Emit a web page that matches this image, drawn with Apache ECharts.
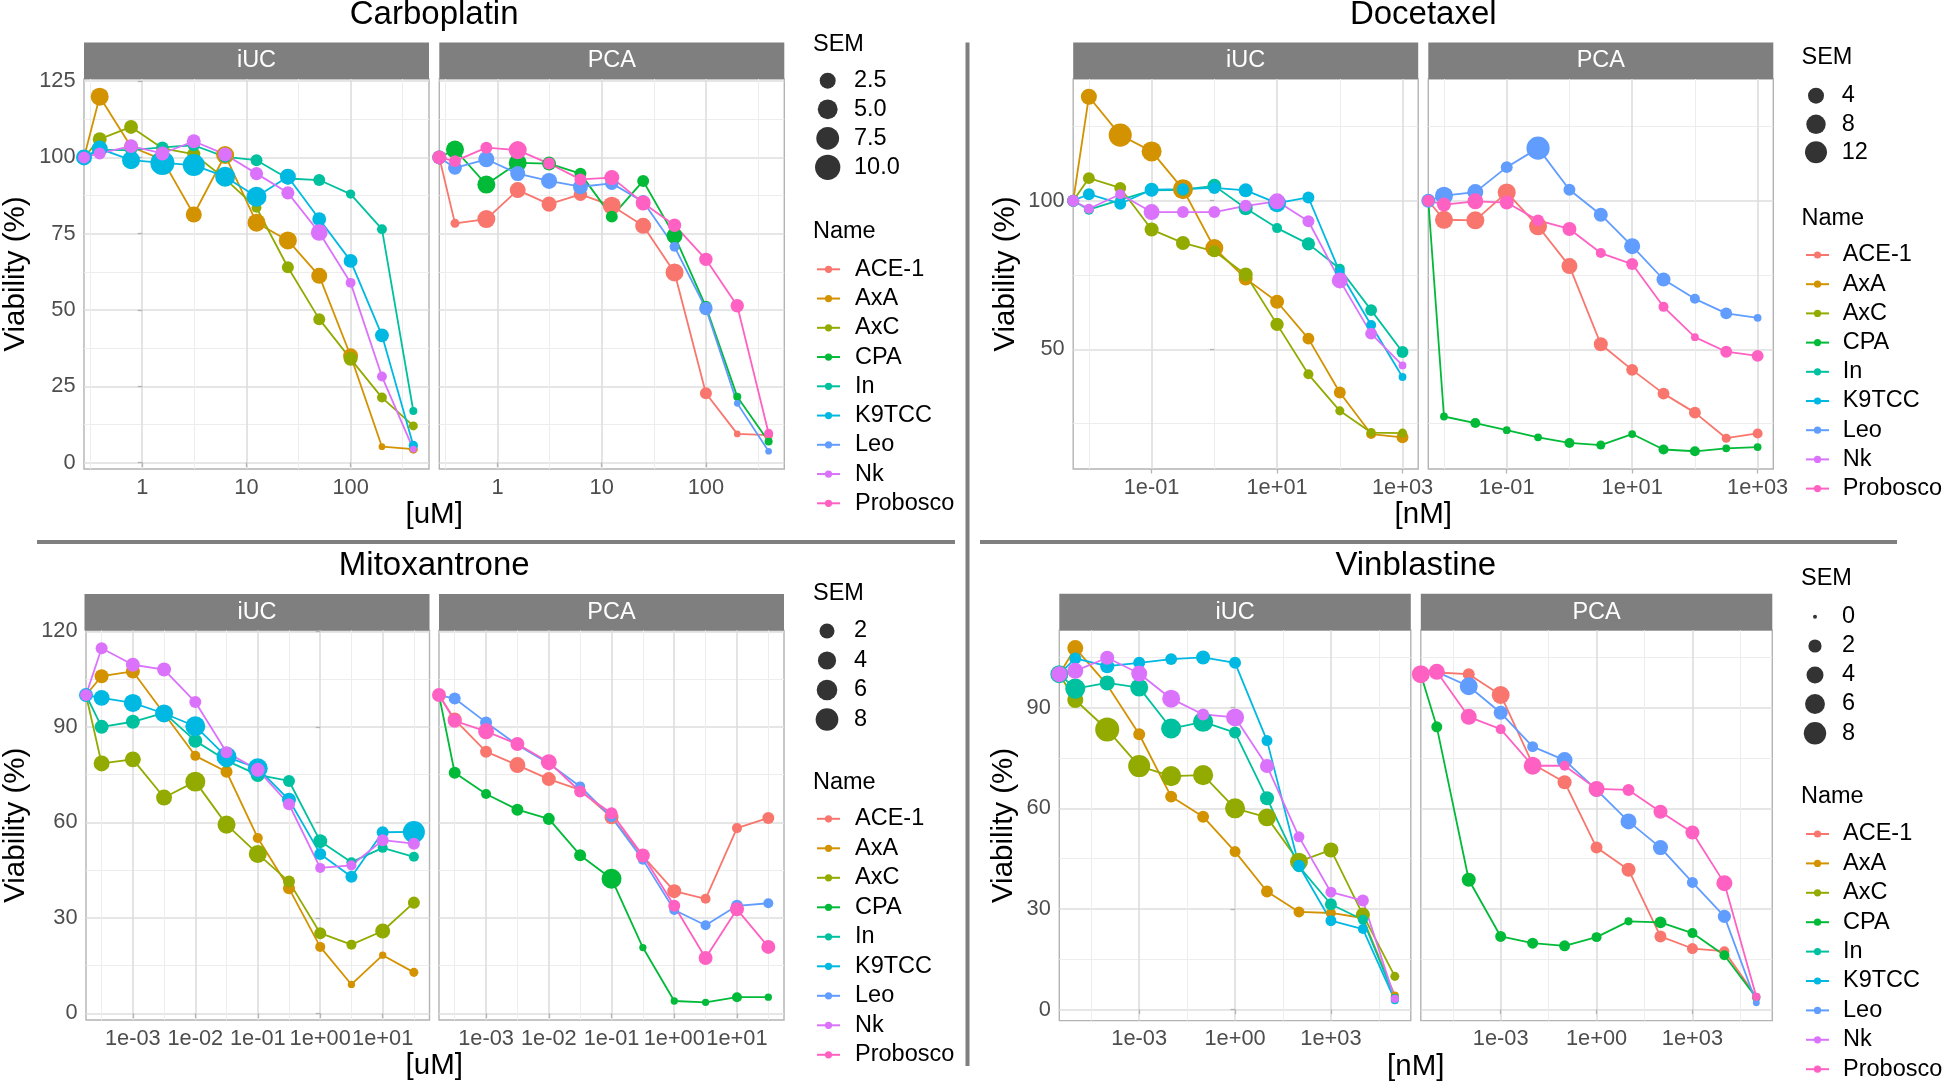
<!DOCTYPE html>
<html>
<head>
<meta charset="utf-8">
<script src="https://cdn.jsdelivr.net/npm/echarts@6/dist/echarts.min.js"></script>
<style>html,body{margin:0;padding:0;background:#fff;}#chart{width:1944px;height:1087px;}</style>
</head>
<body>
<div id="chart"></div>
<script>
// ---------------- data ----------------
const seriesNames = ['ACE-1','AxA','AxC','CPA','In','K9TCC','Leo','Nk','Probosco'];
const iucLines = ['AxA','AxC','In','K9TCC','Nk'];
const pcaLines = ['ACE-1','CPA','Leo','Probosco'];
const facets = ['iUC','PCA'];

// Carboplatin [uM]
const carboConc = [0, 0.390625, 0.78125, 1.5625, 3.125, 6.25, 12.5, 25, 50, 100, 200, 400];
const carboAxA = [100, 119.9, 103.5, 99.3, 81.3, 100.8, 78.6, 72.8, 61.2, 35.0, 5.2, 4.4];
const carboAxASem = [0.8, 3.7, 1.5, 0.8, 2.5, 3.7, 3.7, 3.7, 2.5, 2.0, 0, 0.15];
const carboAxC = [100, 106, 110, 103, 101.1, 93, 83.5, 64, 47, 34, 21.3, 12];
const carboAxCSem = [0.8, 1.5, 1.5, 1.0, 1.2, 1.0, 0.3, 0.8, 0.8, 1.5, 0.3, 0.15];
const carboIn = [100, 102.5, 102.4, 103.3, 104, 100.2, 99.1, 93.1, 92.6, 88, 76.5, 16.9];
const carboInSem = [0.8, 0.8, 0.8, 0.8, 0.8, 0.8, 0.8, 0.8, 0.8, 0.2, 0.3, 0.05];
const carboK9TCC = [100, 102.9, 99.1, 98.2, 97.5, 93.7, 87.1, 93.7, 79.8, 66.1, 41.7, 5.6];
const carboK9TCCSem = [2.5, 2.5, 3.7, 8.7, 6.8, 5.1, 5.1, 2.5, 1.5, 1.5, 1.5, 0.2];
const carboNk = [100, 101.3, 103.7, 101.3, 105.3, 101, 94.7, 88.4, 75.4, 58.9, 28.2, 4.4];
const carboNkSem = [0.8, 0.8, 1.5, 1.5, 1.5, 1.5, 1.2, 1.2, 2.9, 0.3, 0.3, 0];
const carboACE1 = [100, 78.4, 79.8, 89.3, 84.7, 87.9, 84.2, 77.6, 62.3, 22.7, 9.4, 9.0];
const carboACE1Sem = [0.8, 0.15, 3.7, 2.5, 2.0, 1.3, 3.7, 2.5, 3.7, 0.8, 0, 0.15];
const carboCPA = [100, 102.6, 91.1, 98.2, 98, 94.7, 80.6, 92.3, 74.3, 51.1, 21.6, 6.9];
const carboCPASem = [1.5, 3.7, 3.7, 3.7, 1.5, 0.8, 0.8, 0.8, 2.5, 0.8, 0.05, 0.05];
const carboLeo = [100, 96.6, 99.4, 94.7, 92.3, 90.4, 91.5, 85.5, 70.7, 50.5, 19.4, 3.7];
const carboLeoSem = [1.5, 1.5, 2.5, 2.0, 2.5, 2.0, 1.3, 1.3, 0.3, 1.3, 0, 0];
const carboProbosco = [100, 98.8, 103.2, 102.4, 98, 92.8, 93.4, 85.1, 77.8, 66.6, 51.4, 9.6];
const carboProboscoSem = [1.5, 0.8, 0.8, 3.7, 0.8, 0.8, 2.0, 2.0, 1.3, 1.3, 1.3, 0.15];
const carboXTicks = [1, 10, 100];
const carboXLabels = ['1', '10', '100'];
const carboYTicks = [0, 25, 50, 75, 100, 125];
const carboSemBreaks = [2.5, 5, 7.5, 10];
const carboSemLabels = ['2.5', '5.0', '7.5', '10.0'];

// Docetaxel [nM]
const doceConc = [0, 0.01, 0.0316, 0.1, 0.316, 1, 3.16, 10, 31.6, 100, 316, 1000];
const doceAxA = [100, 135, 122.1, 116.6, 103.9, 84.1, 73.8, 66, 53.6, 35.5, 21.5, 20.4];
const doceAxASem = [1.0, 4.0, 14, 8.9, 8.9, 6.2, 2.3, 2.3, 1.0, 1.0, 0.3, 1.0];
const doceAxC = [100, 107.6, 104.3, 90.3, 85.8, 83, 75.2, 58.4, 41.6, 29.3, 22, 21.8];
const doceAxCSem = [1.0, 1.0, 1.0, 2.3, 2.3, 1.0, 2.3, 1.8, 0.3, 0.1, 0.1, 0.1];
const doceIn = [100, 97, 100.3, 103.5, 103.7, 105, 97.5, 90.8, 85.5, 77.1, 63.2, 49.1];
const doceInSem = [1.0, 0.3, 0.3, 1.0, 1.0, 2.3, 2.3, 0.3, 1.8, 0.3, 1.0, 1.0];
const doceK9TCC = [100, 102.2, 99, 103.7, 103.9, 104.3, 103.5, 99.2, 101.1, 76, 58.2, 40.7];
const doceK9TCCSem = [1.0, 1.0, 1.0, 2.3, 1.0, 1.0, 2.3, 6.2, 1.0, 0.3, 0.3, 0];
const doceNk = [100, 97.3, 102.2, 96.2, 96.2, 96.2, 98.3, 99.8, 93.1, 73.2, 55.3, 44.6];
const doceNkSem = [1.0, 0.3, 0.3, 4.0, 1.0, 1.0, 1.0, 4.0, 1.0, 4.0, 1.0, 0];
const doceACE1 = [100, 93.6, 93.4, 102.8, 91.4, 78, 51.7, 43.1, 35.1, 28.7, 20.1, 21.7];
const doceACE1Sem = [1.0, 6.2, 6.2, 6.2, 6.2, 4.0, 2.3, 1.0, 1.0, 1.0, 0.1, 0.3];
const doceCPA = [100, 27.4, 25.2, 22.8, 20.4, 18.5, 17.8, 21.5, 16.3, 15.7, 16.7, 17.1];
const doceCPASem = [1.0, 0, 0.3, 0, 0, 0.3, 0.1, 0, 0.3, 0.3, 0, 0];
const doceLeo = [100, 101.7, 102.9, 111.3, 117.7, 103.7, 95.3, 84.7, 73.5, 67, 62.1, 60.6];
const doceLeoSem = [2.3, 6.2, 4.0, 1.0, 14, 1.0, 2.3, 4.0, 2.3, 0.3, 1.0, 0];
const doceProbosco = [100, 98.7, 99.8, 99.4, 93.4, 90.5, 82.4, 78.7, 64.3, 54.1, 49.2, 47.8];
const doceProboscoSem = [1.0, 2.3, 4.0, 2.3, 1.0, 2.3, 0.3, 1.0, 0.3, 0, 1.0, 1.0];
const doceXTicks = [0.1, 10, 1000];
const doceXLabels = ['1e-01', '1e+01', '1e+03'];
const doceYTicks = [50, 100];
const doceSemBreaks = [4, 8, 12];
const doceSemLabels = ['4', '8', '12'];

// Mitoxantrone [uM]
const mitoConc = [0, 0.000316, 0.001, 0.00316, 0.01, 0.0316, 0.1, 0.316, 1, 3.16, 10, 31.6];
const mitoAxA = [100, 105.9, 107.4, 94.2, 80.9, 75.9, 55.1, 39.3, 20.9, 9.1, 18.3, 12.9];
const mitoAxASem = [0.75, 1.5, 1.5, 0.75, 0.25, 0.75, 0.25, 0.75, 0.25, 0, 0, 0.1];
const mitoAxC = [100, 78.5, 79.8, 67.8, 72.8, 59.3, 50.1, 41.4, 25.2, 21.6, 25.9, 34.8];
const mitoAxCSem = [0.75, 2.5, 2.5, 2.5, 5.4, 3.9, 3.9, 0.75, 0.75, 0.25, 2.0, 0.75];
const mitoIn = [100, 90, 91.6, 94.4, 85.6, 79.4, 74.9, 73, 54.1, 47.5, 52, 49.2];
const mitoInSem = [0.75, 1.5, 1.5, 1.5, 1.5, 1.5, 1.5, 0.75, 1.5, 0.25, 0.25, 0.25];
const mitoK9TCC = [100, 99.1, 97.5, 94.2, 90.2, 80.6, 77, 67.1, 50.1, 42.9, 56.9, 57];
const mitoK9TCCSem = [1.5, 2.5, 3.9, 3.9, 5.4, 5.4, 5.4, 1.5, 0.75, 0.75, 0.75, 7.3];
const mitoNk = [100, 114.7, 109.5, 108, 97.8, 82, 76.5, 65.7, 45.7, 46.5, 54.4, 53.3];
const mitoNkSem = [0.75, 0.75, 1.5, 1.5, 0.75, 0.75, 1.5, 0.75, 0.25, 0.25, 0.75, 0.75];
const mitoACE1 = [100, 92.3, 82.2, 78, 73.6, 70.2, 61.6, 49.4, 38.4, 36, 58.2, 61.4];
const mitoACE1Sem = [0.75, 1.5, 0.75, 2.5, 1.5, 0.25, 1.5, 0.75, 1.5, 0.25, 0.25, 0.75];
const mitoCPA = [100, 75.6, 68.9, 64, 61.1, 49.7, 42.3, 20.7, 3.9, 3.5, 5.1, 5.1];
const mitoCPASem = [0.75, 0.75, 0.25, 0.75, 0.75, 0.75, 5.4, 0, 0, 0, 0.25, 0];
const mitoLeo = [100, 98.9, 91.4, 84.3, 78.5, 71.3, 61.6, 48.3, 32.5, 27.7, 33.8, 34.6];
const mitoLeoSem = [0.75, 0.75, 0.75, 0.25, 0.75, 0.25, 0.25, 0.25, 0.25, 0.25, 0.75, 0.25];
const mitoProbosco = [100, 91.9, 88.6, 84.6, 78.9, 69.7, 62.9, 49.6, 33.8, 17.4, 32.7, 20.9];
const mitoProboscoSem = [1.5, 1.5, 2.5, 1.5, 2.5, 0.75, 0.75, 1.5, 0.75, 1.5, 1.5, 1.5];
const mitoXTicks = [0.001, 0.01, 0.1, 1, 10];
const mitoXLabels = ['1e-03', '1e-02', '1e-01', '1e+00', '1e+01'];
const mitoYTicks = [0, 30, 60, 90, 120];
const mitoSemBreaks = [2, 4, 6, 8];
const mitoSemLabels = ['2', '4', '6', '8'];

// Vinblastine [nM]
const vinbConc = [0, 1e-5, 1e-4, 1e-3, 1e-2, 1e-1, 1, 10, 100, 1000, 1e4, 1e5];
const vinbAxA = [100, 107.8, 96.8, 82.1, 63.5, 57.5, 47.1, 35.2, 29.1, 28.8, 27.3, 4.2];
const vinbAxASem = [1.5, 3.4, 0.85, 1.5, 1.5, 1.5, 1.15, 1.5, 1.15, 0.85, 0.85, 0.4];
const vinbAxC = [100, 92.3, 83.5, 72.6, 69.6, 69.9, 60, 57.3, 44.1, 47.6, 28.3, 9.9];
const vinbAxCSem = [3.4, 3.4, 9.5, 7.7, 6.1, 6.1, 6.1, 4.6, 4.6, 2.9, 2.4, 0.6];
const vinbIn = [100, 95.7, 97.4, 96, 83.8, 85.8, 82.6, 63, 42.7, 31.4, 26.8, 3.5];
const vinbInSem = [4.6, 6.1, 2.9, 4.6, 6.1, 6.1, 1.5, 2.4, 1.5, 1.5, 0.85, 0.4];
const vinbK9TCC = [100, 104.7, 102.4, 103.4, 104.5, 105, 103.4, 80.2, 42.9, 26.5, 24, 2.8];
const vinbK9TCCSem = [1.5, 1.5, 2.4, 1.5, 1.5, 2.4, 1.5, 1.15, 1.5, 1.15, 0.85, 0.4];
const vinbNk = [100, 101, 104.9, 100.2, 92.7, 88, 87.1, 72.6, 51.5, 35, 32.5, 3.2];
const vinbNkSem = [3.4, 3.4, 2.4, 3.4, 4.6, 1.5, 4.6, 2.4, 1.15, 1.15, 1.5, 0.4];
const vinbACE1 = [100, 100.5, 100, 93.8, 73.2, 67.8, 48.3, 41.7, 21.8, 18.2, 17.4, 3.8];
const vinbACE1Sem = [1.5, 1.5, 1.5, 4.6, 0.85, 2.4, 1.5, 2.4, 1.5, 1.15, 0.85, 0.4];
const vinbCPA = [100, 84.3, 38.7, 21.8, 19.8, 19, 21.6, 26.3, 26, 22.8, 16.2, 3.5];
const vinbCPASem = [1.5, 1.15, 2.4, 1.15, 1.15, 1.15, 0.85, 0.4, 1.5, 0.85, 0.85, 0.4];
const vinbLeo = [100, 100.7, 96.4, 88.5, 78.4, 74.4, 65.5, 56.1, 48.3, 37.9, 27.8, 2.0];
const vinbLeoSem = [2.4, 2.4, 4.6, 2.4, 1.15, 3.4, 2.4, 3.4, 2.9, 1.15, 2.0, 0.2];
const vinbProbosco = [100, 100.7, 87.3, 83.6, 72.7, 72.7, 65.8, 65.5, 59, 52.8, 37.7, 3.8];
const vinbProboscoSem = [4.6, 3.4, 3.4, 0.85, 4.6, 0.85, 3.4, 1.5, 2.4, 2.4, 3.4, 0.4];
const vinbXTicks = [0.001, 1, 1000];
const vinbXLabels = ['1e-03', '1e+00', '1e+03'];
const vinbYTicks = [0, 30, 60, 90];
const vinbSemBreaks = [0, 2, 4, 6, 8];
const vinbSemLabels = ['0', '2', '4', '6', '8'];

// ---------------- styles / layout ----------------
const FONT = '"Liberation Sans", Arial, Helvetica, sans-serif';
const palette = {'ACE-1':'#F8766D','AxA':'#D39200','AxC':'#93AA00','CPA':'#00BA38','In':'#00C19F',
  'K9TCC':'#00B9E3','Leo':'#619CFF','Nk':'#DB72FB','Probosco':'#FF61C3'};

const charts = [
  { title:'Carboplatin', unit:'[uM]', conc:carboConc,
    values:{'AxA':carboAxA,'AxC':carboAxC,'In':carboIn,'K9TCC':carboK9TCC,'Nk':carboNk,'ACE-1':carboACE1,'CPA':carboCPA,'Leo':carboLeo,'Probosco':carboProbosco},
    sems:{'AxA':carboAxASem,'AxC':carboAxCSem,'In':carboInSem,'K9TCC':carboK9TCCSem,'Nk':carboNkSem,'ACE-1':carboACE1Sem,'CPA':carboCPASem,'Leo':carboLeoSem,'Probosco':carboProboscoSem},
    xTicks:carboXTicks, xLabels:carboXLabels, yTicks:carboYTicks, semBreaks:carboSemBreaks, semLabels:carboSemLabels,
    L:{left:84, left2:439.3, top:79, w:345, h:390, titleY:15, yTitleGap:53, symA:6.7, symB:5.88,
       semTitleX:813, semTitleY:44.5, semX:827.7, semY:[80.7,109.3,138.3,167.3], semLabelX:854,
       nameTitleY:231.7, nameY0:269.3, nameStep:29.25, keyLeft:816, labelX:854} },
  { title:'Docetaxel', unit:'[nM]', conc:doceConc,
    values:{'AxA':doceAxA,'AxC':doceAxC,'In':doceIn,'K9TCC':doceK9TCC,'Nk':doceNk,'ACE-1':doceACE1,'CPA':doceCPA,'Leo':doceLeo,'Probosco':doceProbosco},
    sems:{'AxA':doceAxASem,'AxC':doceAxCSem,'In':doceInSem,'K9TCC':doceK9TCCSem,'Nk':doceNkSem,'ACE-1':doceACE1Sem,'CPA':doceCPASem,'Leo':doceLeoSem,'Probosco':doceProboscoSem},
    xTicks:doceXTicks, xLabels:doceXLabels, yTicks:doceYTicks, semBreaks:doceSemBreaks, semLabels:doceSemLabels,
    L:{left:1073.2, left2:1428.3, top:79, w:345, h:390, titleY:15, yTitleGap:52, symA:7.8, symB:4.1,
       semTitleX:1801.5, semTitleY:58, semX:1816, semY:[95.7,124.3,152.3], semLabelX:1841.7,
       nameTitleY:218.3, nameY0:255, nameStep:29.2, keyLeft:1805, labelX:1841.7} },
  { title:'Mitoxantrone', unit:'[uM]', conc:mitoConc,
    values:{'AxA':mitoAxA,'AxC':mitoAxC,'In':mitoIn,'K9TCC':mitoK9TCC,'Nk':mitoNk,'ACE-1':mitoACE1,'CPA':mitoCPA,'Leo':mitoLeo,'Probosco':mitoProbosco},
    sems:{'AxA':mitoAxASem,'AxC':mitoAxCSem,'In':mitoInSem,'K9TCC':mitoK9TCCSem,'Nk':mitoNkSem,'ACE-1':mitoACE1Sem,'CPA':mitoCPASem,'Leo':mitoLeoSem,'Probosco':mitoProboscoSem},
    xTicks:mitoXTicks, xLabels:mitoXLabels, yTicks:mitoYTicks, semBreaks:mitoSemBreaks, semLabels:mitoSemLabels,
    L:{left:84.5, left2:439, top:630.5, w:345, h:389.5, titleY:566, yTitleGap:55, symA:7.3, symB:5.45,
       semTitleX:813, semTitleY:593.5, semX:827, semY:[631,660.5,690,719.5], semLabelX:854,
       nameTitleY:782.5, nameY0:818.8, nameStep:29.5, keyLeft:816, labelX:854} },
  { title:'Vinblastine', unit:'[nM]', conc:vinbConc,
    values:{'AxA':vinbAxA,'AxC':vinbAxC,'In':vinbIn,'K9TCC':vinbK9TCC,'Nk':vinbNk,'ACE-1':vinbACE1,'CPA':vinbCPA,'Leo':vinbLeo,'Probosco':vinbProbosco},
    sems:{'AxA':vinbAxASem,'AxC':vinbAxCSem,'In':vinbInSem,'K9TCC':vinbK9TCCSem,'Nk':vinbNkSem,'ACE-1':vinbACE1Sem,'CPA':vinbCPASem,'Leo':vinbLeoSem,'Probosco':vinbProboscoSem},
    xTicks:vinbXTicks, xLabels:vinbXLabels, yTicks:vinbYTicks, semBreaks:vinbSemBreaks, semLabels:vinbSemLabels,
    L:{left:1059.3, left2:1420.8, top:630.3, w:351.5, h:390.3, titleY:566, yTitleGap:40, symA:4, symB:6.5,
       semTitleX:1801, semTitleY:579, semX:1815, semY:[616.7,646,675,704,733.3], semLabelX:1842,
       nameTitleY:797, nameY0:834, nameStep:29.4, keyLeft:1805, labelX:1842} }
];

const option = {
  animation:false, backgroundColor:'#FFFFFF',
  textStyle:{fontFamily:FONT},
  grid:[], xAxis:[], yAxis:[], series:[], legend:[], graphic:[]
};

function midpoints(major, lo, hi) {
  const step = major.length > 1 ? major[1] - major[0] : 1;
  const out = [];
  for (let v = major[0] - step / 2; v <= hi + 1e-9; v += step) {
    if (v >= lo - 1e-9) out.push(v);
  }
  return out;
}
function labelFor(v, major, labels) {
  for (let i = 0; i < major.length; i++) if (Math.abs(major[i] - v) < 1e-6) return labels[i];
  return '';
}
function txt(x, y, text, size, color, align, rotation) {
  return {type:'text', x:x, y:y, rotation:rotation || 0, silent:true,
    style:{text:text, fill:color, fontSize:size, fontFamily:FONT, align:align, textAlign:align,
           verticalAlign:'middle', textVerticalAlign:'middle'}};
}

const tickLabelStyle = {color:'#4D4D4D', fontSize:21.8, fontFamily:FONT};

charts.forEach(function (c) {
  const L = c.L;
  const posX = c.conc.filter(v => v > 0).map(v => Math.log10(v));
  const xMin = Math.min(...posX), xMax = Math.max(...posX);
  const xPad = 0.05 * (xMax - xMin);
  const xlo = xMin - xPad, xhi = xMax + xPad;
  const allNames = iucLines.concat(pcaLines);
  const allY = [].concat(...allNames.map(n => c.values[n]));
  const yMin = Math.min(...allY), yMax = Math.max(...allY);
  const yPad = 0.05 * (yMax - yMin);
  const ylo = yMin - yPad, yhi = yMax + yPad;
  // zero dose (control) is drawn at the panel edge, as ggplot does for log10(0) = -Inf
  const xs = c.conc.map(v => v > 0 ? Math.log10(v) : xlo);
  const xMajor = c.xTicks.map(v => Math.round(Math.log10(v) * 1e6) / 1e6);
  const xMinor = midpoints(xMajor, xlo, xhi);
  const yMinor = midpoints(c.yTicks, ylo, yhi);
  const semSize = s => L.symA + L.symB * Math.sqrt(Math.max(0, s));

  facets.forEach(function (facet, fi) {
    const g = option.grid.length;
    const left = fi === 0 ? L.left : L.left2;
    option.grid.push({left:left, top:L.top, width:L.w, height:L.h, show:true,
      borderColor:'#B3B3B3', borderWidth:1.4, backgroundColor:'#FFFFFF', containLabel:false});
    // primary x
    option.xAxis.push({type:'value', gridIndex:g, min:xlo, max:xhi, position:'bottom',
      axisLine:{show:false},
      axisTick:{show:true, inside:false, length:4.5, lineStyle:{color:'#B3B3B3', width:1.3}, customValues:xMajor},
      axisLabel:Object.assign({show:true, margin:7.5, customValues:xMajor, hideOverlap:false,
        formatter: v => labelFor(v, xMajor, c.xLabels)}, tickLabelStyle),
      splitLine:{show:true, lineStyle:{color:'#DEDEDE', width:1.6}},
      minorTick:{show:false}, minorSplitLine:{show:false}});
    // minor x grid
    option.xAxis.push({type:'value', gridIndex:g, min:xlo, max:xhi, position:'top',
      axisLine:{show:false}, axisTick:{show:false, customValues:xMinor},
      axisLabel:{show:false, customValues:xMinor},
      splitLine:{show:true, lineStyle:{color:'#EDEDED', width:1}}});
    // primary y
    const yAx = {type:'value', gridIndex:g, min:ylo, max:yhi, position:'left',
      axisLine:{show:false},
      axisTick:{show:fi === 0, inside:false, length:4.5, lineStyle:{color:'#B3B3B3', width:1.3}, customValues:c.yTicks},
      axisLabel:Object.assign({show:fi === 0, margin:8.5, customValues:c.yTicks, hideOverlap:false,
        formatter: v => String(Math.round(v))}, tickLabelStyle),
      splitLine:{show:true, lineStyle:{color:'#DEDEDE', width:1.6}}};
    if (fi === 0) {
      yAx.name = 'Viability (%)';
      yAx.nameLocation = 'middle';
      yAx.nameRotate = 90;
      yAx.nameGap = L.yTitleGap;
      yAx.nameTextStyle = {fontSize:29.5, color:'#000000', fontFamily:FONT};
    }
    option.yAxis.push(yAx);
    // minor y grid
    option.yAxis.push({type:'value', gridIndex:g, min:ylo, max:yhi, position:'right',
      axisLine:{show:false}, axisTick:{show:false, customValues:yMinor},
      axisLabel:{show:false, customValues:yMinor},
      splitLine:{show:true, lineStyle:{color:'#EDEDED', width:1}}});

    const lines = fi === 0 ? iucLines : pcaLines;
    lines.forEach(function (n) {
      option.series.push({
        type:'line', name:n, xAxisIndex:2 * g, yAxisIndex:2 * g,
        data: xs.map((x, i) => [x, c.values[n][i], c.sems[n][i]]),
        symbol:'circle', symbolSize: v => semSize(v[2]), showSymbol:true, showAllSymbol:true,
        color:palette[n], lineStyle:{width:1.8, color:palette[n]},
        itemStyle:{color:palette[n], borderWidth:0},
        emphasis:{disabled:true}, silent:true, clip:true
      });
    });

    // facet strip
    option.graphic.push({type:'rect', silent:true, shape:{x:left, y:L.top - 36.5, width:L.w, height:36.5},
      style:{fill:'#7F7F7F'}});
    option.graphic.push(txt(left + L.w / 2, L.top - 18, facet, 23.5, '#FFFFFF', 'center'));
  });

  const midX = (L.left + L.left2 + L.w) / 2;
  option.graphic.push(txt(midX, L.titleY, c.title, 33, '#000000', 'center'));
  option.graphic.push(txt(midX, L.top + L.h + 46, c.unit, 29.5, '#000000', 'center'));
  option.graphic.push(txt(L.semTitleX, L.semTitleY, 'SEM', 23.5, '#000000', 'left'));
  option.graphic.push(txt(L.semTitleX, L.nameTitleY, 'Name', 23.5, '#000000', 'left'));

  // size legend (one entry per break, each with its own symbol size)
  c.semBreaks.forEach(function (s, k) {
    const d = semSize(s);
    option.legend.push({orient:'vertical', left:L.semX - d / 2, top:L.semY[k] - Math.max(d, 24) / 2,
      padding:0, itemWidth:d, itemHeight:d, icon:'circle', selectedMode:false,
      data:[c.semLabels[k]],
      textStyle:{fontSize:23.5, lineHeight:24, color:'#000000', fontFamily:FONT,
        padding:[0, 0, 0, L.semLabelX - L.semX - d / 2 - 5]}});
  });
  // colour legend
  option.legend.push({orient:'vertical', left:L.keyLeft, top:L.nameY0 - 12, padding:0,
    itemWidth:23, itemHeight:9, itemGap:L.nameStep - 24, selectedMode:false, data:seriesNames,
    textStyle:{fontSize:23.5, lineHeight:24, color:'#000000', fontFamily:FONT,
      padding:[0, 0, 0, L.labelX - L.keyLeft - 28]}});
});

// placeholder series that carry the SEM legend names (black dots)
const semNames = [];
charts.forEach(c => c.semLabels.forEach(s => { if (semNames.indexOf(s) < 0) semNames.push(s); }));
semNames.forEach(function (s) {
  option.series.push({type:'scatter', name:s, data:[], xAxisIndex:0, yAxisIndex:0,
    itemStyle:{color:'#000000'}, silent:true});
});

// separators between the four charts
option.graphic.push({type:'line', silent:true, shape:{x1:967.5, y1:42.5, x2:967.5, y2:1066},
  style:{stroke:'#7F7F7F', lineWidth:4}});
option.graphic.push({type:'line', silent:true, shape:{x1:37, y1:542, x2:955, y2:542},
  style:{stroke:'#7F7F7F', lineWidth:4}});
option.graphic.push({type:'line', silent:true, shape:{x1:980, y1:542, x2:1897, y2:542},
  style:{stroke:'#7F7F7F', lineWidth:4}});

const chart = echarts.init(document.getElementById('chart'), null, {renderer:'canvas'});
chart.setOption(option);
</script>
</body>
</html>
